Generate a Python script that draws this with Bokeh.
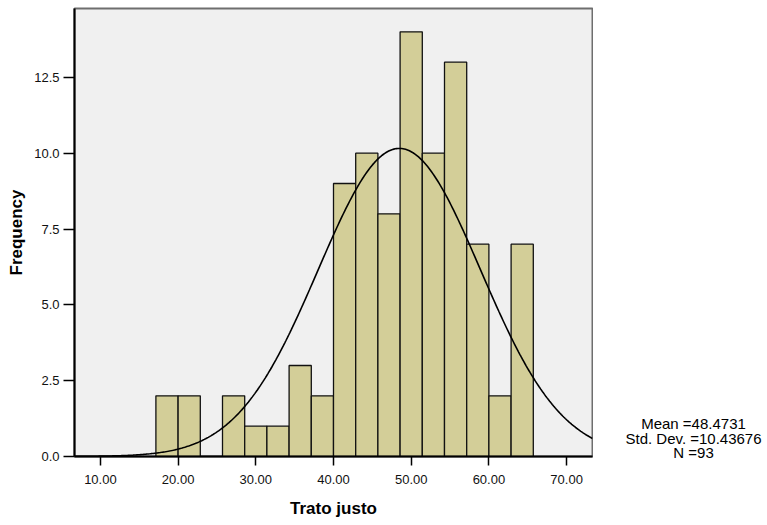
import numpy as np
from bokeh.plotting import figure
from bokeh.layouts import row
from bokeh.models import Range1d, FixedTicker, NumeralTickFormatter, ColumnDataSource
from bokeh.core.properties import value
from bokeh.embed import file_html
from bokeh.resources import INLINE

# Histogram data (Trato justo)
bin_start = 120.0 / 7.0
bin_width = 20.0 / 7.0
counts = [2, 2, 0, 2, 1, 1, 3, 2, 9, 10, 8, 14, 10, 13, 7, 2, 7]
mean_val = 48.4731
sd_val = 10.43676
n_val = 93
x_ticks = [10, 20, 30, 40, 50, 60, 70]
y_ticks = [0.0, 2.5, 5.0, 7.5, 10.0, 12.5]

lefts = [bin_start + i * bin_width for i in range(len(counts))]
rights = [l + bin_width for l in lefts]

x_lo, x_hi = 20.0 / 3.0, 220.0 / 3.0
y_lo, y_hi = 0.0, 14.77

p = figure(width=593, height=525, output_backend="svg", toolbar_location=None,
           x_range=Range1d(x_lo, x_hi), y_range=Range1d(y_lo, y_hi))
p.min_border_left = 74
p.min_border_right = 1
p.min_border_top = 8
p.min_border_bottom = 69
p.background_fill_color = "#F0F0F0"
p.border_fill_color = "white"
p.outline_line_color = "#6E6E6E"
p.outline_line_width = 2
p.xgrid.visible = False
p.ygrid.visible = False

src = ColumnDataSource(dict(left=lefts, right=rights, top=counts, bottom=[0] * len(counts)))
p.quad(left="left", right="right", top="top", bottom="bottom", source=src,
       fill_color="#D3CE98", line_color="#111111", line_width=1.3)

xs = np.linspace(x_lo, x_hi, 400)
ys = n_val * bin_width * np.exp(-0.5 * ((xs - mean_val) / sd_val) ** 2) / (sd_val * np.sqrt(2 * np.pi))
p.line(xs, ys, line_color="black", line_width=1.6)

font = "Liberation Sans"
for ax in (p.xaxis[0], p.yaxis[0]):
    ax.axis_line_color = "black"
    ax.axis_line_width = 2
    ax.major_tick_line_color = "black"
    ax.major_tick_line_width = 1.5
    ax.minor_tick_line_color = None
    ax.major_tick_in = 0
    ax.major_label_text_font = font
    ax.major_label_text_font_size = "13px"
    ax.major_label_text_color = "#111111"
    ax.axis_label_text_font = font
    ax.axis_label_text_font_style = "bold"
    ax.axis_label_text_font_size = "17px"
    ax.axis_label_text_color = "black"

p.xaxis.ticker = FixedTicker(ticks=x_ticks)
p.xaxis.formatter = NumeralTickFormatter(format="0.00")
p.xaxis.major_tick_out = 9
p.xaxis.major_label_standoff = 9
p.xaxis.axis_label = "Trato justo"
p.xaxis.axis_label_standoff = 12

p.yaxis.ticker = FixedTicker(ticks=y_ticks)
p.yaxis.formatter = NumeralTickFormatter(format="0.0")
p.yaxis.major_tick_out = 11
p.yaxis.major_label_standoff = 4
p.yaxis.axis_label = "Frequency"
p.yaxis.axis_label_standoff = 5

# Side panel with summary statistics
stats = ["Mean =%.4f" % mean_val, "Std. Dev. =%.5f" % sd_val, "N =%d" % n_val]
side = figure(frame_width=174, frame_height=525, output_backend="svg", toolbar_location=None,
              title=None, x_axis_location=None, y_axis_location=None,
              x_range=Range1d(0, 174), y_range=Range1d(525, 0), min_border=0)
side.grid.visible = False
side.outline_line_color = None
side.background_fill_color = "white"
side.text(x=[100, 100, 100], y=[415, 429.5, 444], text=stats,
          text_align="center", text_baseline="middle", text_font=value(font),
          text_font_size="15px", text_color="black")

layout = row(p, side, spacing=0)
open("out.html", "w").write(file_html(layout, INLINE))
